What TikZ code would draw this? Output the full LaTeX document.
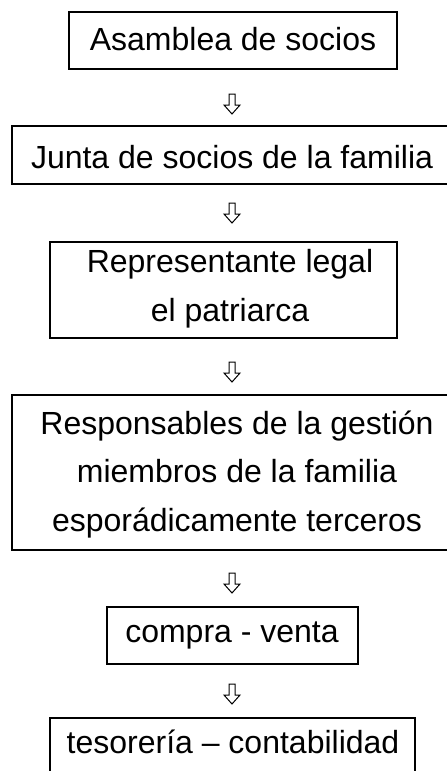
\documentclass[tikz,border=0pt]{standalone}
\usepackage{fontspec}
\setmainfont{Liberation Sans}
\begin{document}
\begin{tikzpicture}[x=1pt,y=-1pt,
  box/.style={draw, line width=1.4pt, inner sep=0pt, rectangle},
  txt/.style={inner sep=0pt, align=center, font={\fontsize{32}{48.5}\selectfont}},
  downarr/.pic={\draw[line width=1pt, line join=miter] (-3,0) -- (-3,11) -- (-8,11) -- (0,20) -- (8,11) -- (3,11) -- (3,0) -- cycle;}
]
\clip (0,0) rectangle (447,771);
\fill[white] (0,0) rectangle (447,771);
% boxes
\node[box, minimum width=328pt, minimum height=57pt] (b1) at (233,40.5) {};
\node[box, minimum width=458pt, minimum height=58pt] (b2) at (241,155) {};
\node[box, minimum width=347pt, minimum height=96pt] (b3) at (223.5,290) {};
\node[box, minimum width=458pt, minimum height=155pt] (b4) at (241,472.5) {};
\node[box, minimum width=251pt, minimum height=57pt] (b5) at (232.5,635.5) {};
\node[box, minimum width=365pt, minimum height=72pt] (b6) at (232.5,754) {};
% texts
\node[txt, anchor=base] (t1) at (233,50) {Asamblea de socios};
\node[txt, anchor=base] (t2) at (232,168) {Junta de socios de la familia};
\node[txt] (t3) at (230,288.5) {Representante legal\\el patriarca};
\node[txt] (t4) at (237,474.5) {Responsables de la gestión\\miembros de la familia\\esporádicamente terceros};
\node[txt, anchor=base] (t5) at (232,642) {compra - venta};
\node[txt, anchor=base] (t6) at (233,753) {tesorería – contabilidad};
% arrows
\coordinate (a1) at (232,94);
\coordinate (a2) at (232,203);
\coordinate (a3) at (232,362);
\coordinate (a4) at (232,573);
\coordinate (a5) at (232,684);
\pic at (a1) {downarr};
\pic at (a2) {downarr};
\pic at (a3) {downarr};
\pic at (a4) {downarr};
\pic at (a5) {downarr};
\end{tikzpicture}
\end{document}
